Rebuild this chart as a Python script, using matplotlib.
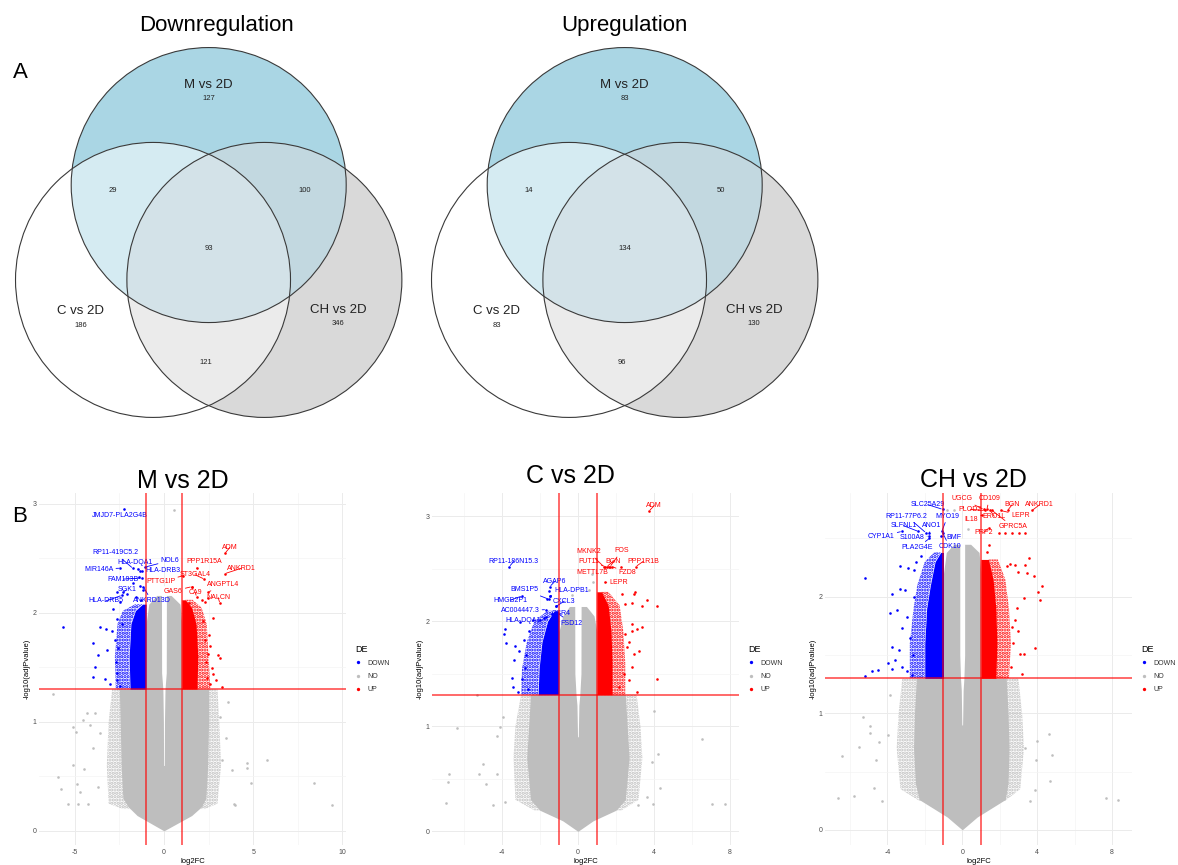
"""Figure: Venn diagrams of DE genes (A) and volcano plots per comparison (B)."""
import matplotlib

matplotlib.use("Agg")
import matplotlib.pyplot as plt
import numpy as np
from matplotlib.lines import Line2D
from matplotlib.patches import Circle, Polygon

plt.rcParams["font.family"] = ["Liberation Sans", "DejaVu Sans"]
plt.rcParams["axes.unicode_minus"] = False
plt.rcParams["hatch.linewidth"] = 1.6

DOWN_C, NO_C, UP_C = "#0000FF", "#BEBEBE", "#FF0000"
P_CUT = -np.log10(0.05)
FC_CUT = 1.0

# ---------------------------------------------------------------- Venn data
venn_sets = ["M vs 2D", "C vs 2D", "CH vs 2D"]
venn_regions = ["M", "C", "CH", "M&C", "M&CH", "C&CH", "M&C&CH"]
down_counts = [127, 186, 346, 29, 100, 121, 93]
up_counts = [83, 83, 130, 14, 50, 96, 134]

# ------------------------------------------------------------- volcano data
# M vs 2D: dense grey body (y, left x, right x), speckled rim, white gap at 0
m_env_y = [0.00, 0.14, 0.22, 0.30, 0.60, 1.00, 1.30, 1.30, 1.90, 2.08, 2.16]
m_env_xl = [0.00, -1.50, -2.00, -2.30, -2.40, -2.45, -2.50, -1.00, -1.00, -0.85, -0.40]
m_env_xr = [0.00, 1.55, 2.10, 2.35, 2.45, 2.50, 2.50, 1.00, 1.00, 0.90, 0.40]
m_halo_y = [0.20, 0.25, 0.60, 1.00, 1.30]
m_halo_xl = [-2.30, -3.10, -3.20, -3.10, -2.90]
m_halo_xr = [2.30, 3.00, 3.20, 3.10, 3.00]
m_gap_y = [0.60, 1.00, 1.30, 1.45, 2.25]
m_gap_hw = [0.02, 0.03, 0.06, 0.13, 0.14]
m_down_core_y = [1.30, 1.60, 1.90, 2.02, 2.08]
m_down_core_x = [-1.90, -1.95, -1.85, -1.60, -1.20]
m_down_rim_x = [-2.70, -2.75, -2.60, -2.30, -1.60]
m_up_core_y = [1.30, 1.60, 1.90, 2.05, 2.12]
m_up_core_x = [1.85, 1.90, 1.80, 1.55, 1.20]
m_up_rim_x = [2.60, 2.50, 2.40, 2.10, 1.60]
m_down_x = [-5.63, -3.58, -3.25, -2.93, -3.96, -3.21, -3.67, -3.86, -3.96, -3.30, -3.02, -2.74,
            -2.87, -2.65, -2.33, -2.61, -2.70, -2.55, -2.45, -2.62, -2.46, -2.61, -2.05, -1.34,
            -1.38, -1.34, -1.16, -1.72, -1.55, -1.30]
m_down_y = [1.87, 1.87, 1.85, 1.83, 1.72, 1.66, 1.61, 1.50, 1.41, 1.39, 1.35, 1.75,
            2.04, 1.94, 1.90, 1.45, 1.55, 1.68, 1.33, 1.38, 2.10, 2.19, 2.17, 2.38,
            2.33, 2.25, 2.21, 2.27, 2.15, 2.12]
m_up_x = [2.76, 3.04, 3.13, 2.67, 2.76, 3.28, 2.57, 2.39, 2.20, 2.48, 2.30, 2.45, 2.35, 2.50,
          1.55, 2.15, 2.30, 1.40, 1.30, 2.60, 2.90]
m_up_y = [1.95, 1.61, 1.59, 1.49, 1.44, 1.32, 1.35, 1.40, 1.93, 2.14, 1.75, 1.62, 1.55, 1.80,
          2.24, 2.12, 2.10, 2.09, 2.05, 1.70, 1.38]
m_no_x = [-6.23, -5.07, -4.95, -5.07, -5.91, -4.88, -5.78, -4.73, -5.35, -4.79, -4.24, -4.46,
          -3.97, -4.53, -4.31, -3.88, -4.12, -3.70, -3.60, 3.60, 3.13, 3.84, 4.63, 4.63, 5.80,
          4.89, 8.39, 9.40, 3.90, 4.00, 3.23, 3.50, 0.58]
m_no_y = [1.26, 0.95, 0.91, 0.60, 0.49, 0.43, 0.38, 0.36, 0.25, 0.25, 0.25, 0.57,
          0.76, 1.02, 1.08, 1.08, 0.97, 0.40, 0.90, 1.18, 1.04, 0.56, 0.62, 0.58, 0.65,
          0.44, 0.44, 0.24, 0.25, 0.24, 0.65, 0.85, 2.94]
m_genes = ["JMJD7-PLA2G4B", "RP11-419C5.2", "HLA-DQA1", "NOL6", "MIR146A", "HLA-DRB3",
           "FAM193B", "SGK1", "HLA-DRB5", "ANKRD13D", "ADM", "PPP1R15A", "ANKRD1", "ST3GAL4",
           "PTTG1IP", "ANGPTL4", "GAS6", "CA9", "NALCN"]
m_gene_de = ["DOWN"] * 10 + ["UP"] * 9
m_gene_x = [-2.22, -1.75, -1.45, -1.06, -2.46, -1.25, -1.25, -2.30, -2.37, -1.16,
            3.41, 1.83, 3.41, 2.26, 1.08, 2.48, 1.55, 1.83, 3.13]
m_gene_y = [2.95, 2.41, 2.40, 2.42, 2.41, 2.38, 2.32, 2.19, 2.16, 2.24,
            2.545, 2.41, 2.36, 2.31, 2.34, 2.19, 2.24, 2.15, 2.09]
m_label_x = [-2.46, -2.74, -1.62, 0.34, -3.66, -0.04, -2.28, -2.09, -3.25, -0.69,
             3.69, 2.26, 4.35, 1.74, -0.19, 3.32, 0.52, 1.74, 3.04]
m_label_y = [2.89, 2.55, 2.46, 2.48, 2.40, 2.39, 2.31, 2.21, 2.11, 2.11,
             2.60, 2.47, 2.41, 2.35, 2.29, 2.26, 2.20, 2.19, 2.14]

# C vs 2D
c_env_y = [0.00, 0.10, 0.20, 0.30, 0.70, 1.00, 1.30, 1.30, 1.90, 2.05, 2.14]
c_env_xl = [0.00, -0.80, -2.00, -2.50, -2.70, -2.60, -2.50, -1.00, -1.00, -0.80, -0.45]
c_env_xr = [0.00, 0.80, 2.00, 2.50, 2.70, 2.60, 2.50, 1.00, 1.00, 0.85, 0.45]
c_halo_y = [0.20, 0.30, 0.70, 1.00, 1.30]
c_halo_xl = [-2.30, -3.30, -3.40, -3.30, -3.00]
c_halo_xr = [2.30, 3.20, 3.40, 3.30, 3.10]
c_gap_y = [0.90, 1.20, 1.30, 1.50, 2.30]
c_gap_hw = [0.02, 0.05, 0.10, 0.16, 0.17]
c_down_core_y = [1.30, 1.55, 1.80, 2.00, 2.10]
c_down_core_x = [-2.10, -2.05, -1.90, -1.60, -1.25]
c_down_rim_x = [-3.00, -2.95, -2.70, -2.30, -1.60]
c_up_core_y = [1.30, 1.60, 1.90, 2.15, 2.28]
c_up_core_x = [1.80, 1.80, 1.75, 1.60, 1.25]
c_up_rim_x = [2.50, 2.50, 2.40, 2.20, 1.60]
c_down_x = [-3.92, -3.80, -3.86, -3.31, -3.13, -3.39, -3.48, -3.43, -3.17, -3.04, -2.60, -2.39,
            -1.99, -1.55, -1.63, -1.45, -1.16, -1.39, -1.69, -2.80, -2.95, -2.75, -2.65, -2.85]
c_down_y = [1.88, 1.79, 1.93, 1.76, 1.72, 1.63, 1.46, 1.37, 1.33, 1.99, 1.91, 2.01,
            2.01, 2.29, 2.21, 2.24, 2.14, 2.07, 2.04, 1.55, 1.45, 1.68, 1.35, 1.82]
c_up_x = [4.17, 3.64, 3.38, 3.03, 2.32, 2.85, 2.50, 2.94, 3.11, 3.38, 2.85, 2.85, 2.50, 2.67,
          2.60, 2.94, 3.20, 4.17, 2.85, 2.41, 2.67, 2.15, 3.11, 2.29]
c_up_y = [2.14, 2.20, 2.14, 2.28, 2.26, 2.17, 2.16, 2.26, 1.93, 1.94, 1.97, 1.91, 1.88, 1.80,
          1.75, 1.69, 1.72, 1.45, 1.56, 1.50, 1.44, 1.37, 1.33, 2.52]
c_no_x = [-5.31, -6.40, -4.12, -4.29, -3.94, -5.03, -5.21, -6.79, -6.84, -4.26, -4.87, -6.97,
          -4.47, -3.85, 4.03, 6.56, 4.24, 3.89, 4.33, 3.98, 7.05, 7.76, 3.18, 3.62, 0.81, 0.60,
          -0.30, 0.75]
c_no_y = [1.30, 0.98, 0.99, 0.91, 1.09, 0.64, 0.55, 0.55, 0.47, 0.55, 0.45, 0.27,
          0.25, 0.28, 1.15, 0.88, 0.74, 0.66, 0.41, 0.26, 0.26, 0.26, 0.25, 0.33, 2.37, 2.30,
          2.25, 2.45]
c_genes = ["RP11-186N15.3", "AGAP6", "BMS1P5", "HLA-DPB1", "HMGB2P1", "CXCL3", "AC004447.3",
           "CCR4", "HLA-DQA1", "FSD12", "ADM", "MKNK2", "FOS", "FUT11", "BGN", "PPP1R1B",
           "METTL7B", "FZD8", "LEPR"]
c_gene_de = ["DOWN"] * 10 + ["UP"] * 9
c_gene_x = [-3.62, -1.48, -1.55, -1.45, -2.96, -1.16, -1.69, -1.39, -1.80, -1.10,
            3.76, 1.36, 1.70, 1.45, 1.53, 3.06, 1.62, 1.80, 1.41]
c_gene_y = [2.52, 2.33, 2.21, 2.24, 2.24, 2.14, 2.11, 2.07, 2.03, 2.08,
            3.05, 2.52, 2.52, 2.52, 2.52, 2.52, 2.52, 2.52, 2.37]
c_label_x = [-3.38, -1.21, -2.83, -0.33, -3.55, -0.72, -3.06, -0.88, -2.88, -0.33,
             4.03, 0.55, 2.30, 0.55, 1.86, 3.45, 0.76, 2.62, 2.16]
c_label_y = [2.57, 2.38, 2.30, 2.29, 2.20, 2.19, 2.10, 2.07, 2.01, 1.98,
             3.10, 2.66, 2.67, 2.57, 2.57, 2.57, 2.46, 2.46, 2.37]

# CH vs 2D
ch_env_y = [0.00, 0.11, 0.26, 0.40, 0.70, 1.00, 1.30, 1.30, 2.20, 2.38, 2.45]
ch_env_xl = [0.00, -0.80, -2.30, -2.50, -2.60, -2.55, -2.45, -1.00, -1.00, -0.85, -0.45]
ch_env_xr = [0.00, 0.80, 2.30, 2.45, 2.50, 2.45, 2.35, 1.00, 1.00, 0.90, 0.45]
ch_halo_y = [0.25, 0.35, 0.70, 1.00, 1.30]
ch_halo_xl = [-2.30, -3.30, -3.50, -3.40, -3.20]
ch_halo_xr = [2.30, 3.10, 3.30, 3.20, 3.00]
ch_gap_y = [0.90, 1.20, 1.30, 1.50, 2.50]
ch_gap_hw = [0.02, 0.05, 0.09, 0.13, 0.13]
ch_down_core_y = [1.30, 1.60, 1.90, 2.10, 2.30, 2.38]
ch_down_core_x = [-2.00, -2.00, -1.90, -1.70, -1.45, -1.15]
ch_down_rim_x = [-2.80, -2.80, -2.60, -2.40, -2.00, -1.50]
ch_up_core_y = [1.30, 1.60, 1.90, 2.15, 2.32]
ch_up_core_x = [1.80, 1.85, 1.80, 1.65, 1.40]
ch_up_rim_x = [2.50, 2.60, 2.50, 2.30, 1.90]
ch_down_x = [-5.19, -3.76, -3.31, -3.05, -3.85, -3.49, -3.32, -2.87, -2.60, -2.96, -3.22, -3.76,
             -3.40, -3.58, -3.94, -3.76, -4.48, -4.83, -5.19, -3.22, -2.96, -2.70, -2.80, -2.55,
             -2.65, -2.45, -2.20]
ch_down_y = [2.16, 2.02, 2.07, 2.06, 1.86, 1.89, 2.26, 2.25, 2.23, 1.83, 1.73, 1.57,
             1.54, 1.46, 1.43, 1.38, 1.37, 1.36, 1.32, 1.40, 1.36, 1.33, 1.65, 2.00,
             1.50, 2.30, 2.35]
ch_up_x = [3.55, 3.33, 3.46, 3.82, 4.26, 4.05, 4.17, 2.83, 2.56, 2.38, 3.00, 3.28, 2.92, 2.83,
           2.65, 3.00, 3.90, 3.10, 3.28, 3.19, 2.60, 2.70, 1.94, 2.30, 2.66, 3.01, 3.37, 1.41,
           1.32, 1.23]
ch_up_y = [2.33, 2.27, 2.20, 2.18, 2.09, 2.04, 1.97, 2.27, 2.28, 2.26, 2.21, 1.99, 1.90, 1.80,
           1.74, 1.71, 1.56, 1.51, 1.51, 1.34, 1.40, 1.60, 2.55, 2.55, 2.55, 2.55, 2.55, 2.44,
           2.38, 2.28]
ch_no_x = [-5.31, -6.43, -5.54, -4.92, -4.92, -4.47, -4.60, -3.97, -3.85, -6.61, -5.76, -4.71,
           -4.30, 4.65, 4.00, 4.80, 3.96, 4.71, 3.90, 7.70, 8.32, 3.64, 3.37, -0.46, -0.80, 0.30]
ch_no_y = [0.97, 0.63, 0.71, 0.89, 0.83, 0.75, 0.60, 0.81, 1.16, 0.27, 0.29, 0.36,
           0.25, 0.82, 0.76, 0.64, 0.60, 0.42, 0.34, 0.27, 0.26, 0.25, 0.70, 2.74, 2.74, 2.58]
ch_genes = ["SLC25A29", "RP11-77P6.2", "MYO19", "SLFNL1", "ANO1", "CYP1A1", "S100A8", "BMF",
            "PLA2G4E", "CDK10", "UGCG", "CD109", "BGN", "ANKRD1", "PLOD2", "LEPR", "IL18",
            "ERO1L", "GPRC5A", "PRP2"]
ch_gene_de = ["DOWN"] * 10 + ["UP"] * 10
ch_gene_x = [-1.05, -1.95, -1.09, -2.34, -1.75, -3.23, -1.80, -1.15, -1.75, -1.05,
             1.14, 1.32, 2.42, 3.73, 1.20, 2.05, 1.05, 1.50, 1.60, 1.41]
ch_gene_y = [2.75, 2.55, 2.56, 2.56, 2.55, 2.56, 2.52, 2.52, 2.50, 2.55,
             2.75, 2.75, 2.74, 2.74, 2.74, 2.74, 2.70, 2.74, 2.74, 2.59]
ch_label_x = [-1.84, -2.96, -0.78, -3.14, -1.62, -4.33, -2.69, -0.46, -2.42, -0.68,
              -0.02, 1.44, 2.67, 4.14, 0.43, 3.10, 0.48, 1.71, 2.71, 1.14]
ch_label_y = [2.79, 2.69, 2.69, 2.61, 2.61, 2.52, 2.51, 2.51, 2.42, 2.43,
              2.84, 2.84, 2.79, 2.79, 2.75, 2.70, 2.66, 2.69, 2.60, 2.55]

# ------------------------------------------------------------------- Venn
R = 1.0
venn_centers = {"M": (0.0, 0.46), "C": (-0.405, -0.23), "CH": (0.405, -0.23)}
venn_fill = {"M": "#AAD6E4", "C": "#FFFFFF", "CH": "#D9D9D9", "M&C": "#D5EBF2",
             "M&CH": "#C2D8E0", "C&CH": "#EBEBEB", "M&C&CH": "#D3E2E8"}
count_xy = {"M": (0.0, 1.086), "C": (-0.93, -0.565), "CH": (0.94, -0.55),
            "M&C": (-0.70, 0.42), "M&CH": (0.70, 0.42), "C&CH": (-0.02, -0.83),
            "M&C&CH": (0.0, 0.0)}
name_xy = [(0.0, 1.19), (-0.93, -0.456), (0.94, -0.45)]


def lens(c1, c2, n=720):
    t = np.linspace(0, 2 * np.pi, n, endpoint=False)
    pts = []
    for a, b in ((c1, c2), (c2, c1)):
        ring = np.column_stack([a[0] + R * np.cos(t), a[1] + R * np.sin(t)])
        pts.append(ring[np.hypot(ring[:, 0] - b[0], ring[:, 1] - b[1]) <= R])
    pts = np.vstack(pts)
    mx, my = (c1[0] + c2[0]) / 2, (c1[1] + c2[1]) / 2
    return pts[np.argsort(np.arctan2(pts[:, 1] - my, pts[:, 0] - mx))]


def draw_venn(ax, title, title_x, counts):
    for k in ["M", "C", "CH"]:
        ax.add_patch(Circle(venn_centers[k], R, fc=venn_fill[k], ec="none"))
    for a, b in [("M", "C"), ("M", "CH"), ("C", "CH")]:
        p = Circle(venn_centers[a], R, fc=venn_fill[f"{a}&{b}"], ec="none")
        ax.add_patch(p)
        p.set_clip_path(Circle(venn_centers[b], R, transform=ax.transData))
    tri = Polygon(lens(venn_centers["C"], venn_centers["CH"]), fc=venn_fill["M&C&CH"], ec="none")
    ax.add_patch(tri)
    tri.set_clip_path(Circle(venn_centers["M"], R, transform=ax.transData))
    for k in ["M", "C", "CH"]:
        ax.add_patch(Circle(venn_centers[k], R, fc="none", ec="#3A3A3A", lw=0.8))

    for name, (x, y) in zip(venn_sets, name_xy):
        ax.text(x, y, name, ha="center", va="center", fontsize=9.5, color="#222222")
    for reg, n in zip(venn_regions, counts):
        x, y = count_xy[reg]
        ax.text(x, y, str(n), ha="center", va="center", fontsize=5.5, color="#222222")
    ax.text(title_x, 1.624, title, ha="center", va="center", fontsize=16)
    ax.set_xlim(-1.5, 1.5)
    ax.set_ylim(-1.5, 1.5)
    ax.set_aspect("equal")
    ax.axis("off")


# ---------------------------------------------------------------- volcano
def speckle(ax, y, x0, x1, color):
    # band of scattered-but-dense genes, drawn as a dotted hatch
    ax.fill_betweenx(y, x0, x1, facecolor="none", edgecolor=color, hatch=".....", lw=0)


def draw_volcano(ax, title, title_x, title_y, env, halo, gap, down_core, up_core,
                 no_pts, down_pts, up_pts, genes, xlim, ylim, xticks, yticks):
    step = xticks[1] - xticks[0]
    ax.set_xticks(xticks)
    ax.set_yticks(yticks)
    ax.set_xticks([t + step / 2 for t in [xticks[0] - step] + xticks], minor=True)
    ax.set_yticks([t + 0.5 for t in yticks], minor=True)
    ax.set_xlim(*xlim)
    ax.set_ylim(*ylim)
    ax.grid(which="major", color="#EBEBEB", lw=0.7)
    ax.grid(which="minor", color="#F4F4F4", lw=0.5)
    ax.set_axisbelow(True)
    for s in ax.spines.values():
        s.set_visible(False)
    ax.tick_params(which="both", length=0, labelsize=5, labelcolor="#4D4D4D")
    ax.tick_params(axis="x", pad=3)
    ax.tick_params(axis="y", pad=2)

    speckle(ax, halo[0], halo[1], halo[2], NO_C)
    ax.fill_betweenx(env[0], env[1], env[2], color=NO_C, lw=0)
    gy, ghw = np.array(gap[0]), np.array(gap[1])
    ax.fill_betweenx(gy, -ghw, ghw, color="white", lw=0)

    dy, dcore, drim = down_core
    uy, ucore, urim = up_core
    speckle(ax, dy, drim, dcore, DOWN_C)
    speckle(ax, uy, ucore, urim, UP_C)
    ax.fill_betweenx(dy, dcore, -FC_CUT, color=DOWN_C, lw=0)
    ax.fill_betweenx(uy, FC_CUT, ucore, color=UP_C, lw=0)
    ax.scatter(*no_pts, s=3.5, color=NO_C, lw=0)
    ax.scatter(*down_pts, s=3.5, color=DOWN_C, lw=0)
    ax.scatter(*up_pts, s=3.5, color=UP_C, lw=0)

    names, de, gx, gy_, lx, ly = genes
    for n, d, x, y, tx, ty in zip(names, de, gx, gy_, lx, ly):
        col = DOWN_C if d == "DOWN" else UP_C
        ax.scatter([x], [y], s=3.5, color=col, lw=0, zorder=3)
        ax.annotate(n, xy=(x, y), xytext=(tx, ty), ha="center", va="center", fontsize=5,
                    color=col, zorder=4,
                    arrowprops=dict(arrowstyle="-", color=col, lw=0.6, shrinkA=0, shrinkB=1))

    for x in (-FC_CUT, FC_CUT):
        ax.axvline(x, color="#FF0000", alpha=0.75, lw=1.1, zorder=5)
    ax.axhline(P_CUT, color="#FF0000", alpha=0.75, lw=1.1, zorder=5)

    ax.text(title_x, title_y, title, transform=ax.transAxes, ha="center", va="baseline",
            fontsize=18)
    ax.text(0.5, -0.046, "log2FC", transform=ax.transAxes, ha="center", va="center",
            fontsize=5.5)
    ax.text(-0.04, 0.5, "-log10(adjPvalue)", transform=ax.transAxes, rotation=90,
            ha="center", va="center", fontsize=5.5)

    handles = [Line2D([], [], marker="o", ls="", color=c, markersize=2.4, mew=0)
               for c in (DOWN_C, NO_C, UP_C)]
    leg = ax.legend(handles, ["DOWN", "NO", "UP"], title="DE", loc="center left",
                    bbox_to_anchor=(1.03, 0.5), frameon=False, fontsize=5, title_fontsize=6.5,
                    alignment="left", handlelength=0.8, handletextpad=0.9, labelspacing=0.9,
                    borderpad=0, borderaxespad=0)
    for t in leg.get_texts():
        t.set_color("#333333")


fig = plt.figure(figsize=(11.78, 8.65), dpi=100)
W, H = 1178, 865

# Venn axes: 137.5 px per radius, centroid at (208.7, 248.3) / (625, 248.3) px
for cx, title, tx, counts in [(208.7, "Downregulation", 0.06, down_counts),
                              (624.7, "Upregulation", 0.0, up_counts)]:
    side = 3 * 137.5
    ax = fig.add_axes([(cx - side / 2) / W, 1 - (248.3 + side / 2) / H, side / W, side / H])
    draw_venn(ax, title, tx, counts)

panels = [
    ("M vs 2D", 39, 0.469, 1.013,
     (m_env_y, m_env_xl, m_env_xr), (m_halo_y, m_halo_xl, m_halo_xr), (m_gap_y, m_gap_hw),
     (m_down_core_y, m_down_core_x, m_down_rim_x), (m_up_core_y, m_up_core_x, m_up_rim_x),
     (m_no_x, m_no_y), (m_down_x, m_down_y), (m_up_x, m_up_y),
     (m_genes, m_gene_de, m_gene_x, m_gene_y, m_label_x, m_label_y),
     (-7.0, 10.2), (-0.13, 3.10), [-5, 0, 5, 10], [0, 1, 2, 3]),
    ("C vs 2D", 432, 0.45, 1.027,
     (c_env_y, c_env_xl, c_env_xr), (c_halo_y, c_halo_xl, c_halo_xr), (c_gap_y, c_gap_hw),
     (c_down_core_y, c_down_core_x, c_down_rim_x), (c_up_core_y, c_up_core_x, c_up_rim_x),
     (c_no_x, c_no_y), (c_down_x, c_down_y), (c_up_x, c_up_y),
     (c_genes, c_gene_de, c_gene_x, c_gene_y, c_label_x, c_label_y),
     (-7.7, 8.5), (-0.13, 3.22), [-4, 0, 4, 8], [0, 1, 2, 3]),
    ("CH vs 2D", 825, 0.484, 1.018,
     (ch_env_y, ch_env_xl, ch_env_xr), (ch_halo_y, ch_halo_xl, ch_halo_xr),
     (ch_gap_y, ch_gap_hw),
     (ch_down_core_y, ch_down_core_x, ch_down_rim_x), (ch_up_core_y, ch_up_core_x, ch_up_rim_x),
     (ch_no_x, ch_no_y), (ch_down_x, ch_down_y), (ch_up_x, ch_up_y),
     (ch_genes, ch_gene_de, ch_gene_x, ch_gene_y, ch_label_x, ch_label_y),
     (-7.33, 9.07), (-0.13, 2.89), [-4, 0, 4, 8], [0, 1, 2]),
]
for title, left, tx, ty, *rest in panels:
    ax = fig.add_axes([left / W, 20 / H, 307 / W, 352 / H])
    draw_volcano(ax, title, tx, ty, *rest)

fig.text(20 / W, 1 - 72 / H, "A", ha="center", va="center", fontsize=16)
fig.text(20 / W, 1 - 517 / H, "B", ha="center", va="center", fontsize=16)

fig.savefig("out.png", dpi=100)
